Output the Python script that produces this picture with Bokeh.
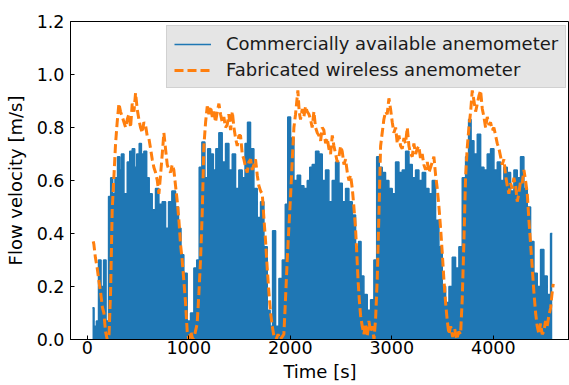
from bokeh.plotting import figure
from bokeh.models import Range1d, FixedTicker, Legend, LegendItem, PrintfTickFormatter
from bokeh.embed import file_html
from bokeh.resources import INLINE

# Commercially available anemometer: sampled peaks (time [s], velocity [m/s])
blue_t = [52, 82, 98, 124, 148, 174, 197, 223, 239, 262, 285, 312, 328, 345, 378, 410, 427, 459, 476, 499,
          525, 542, 574, 597, 624, 656, 689, 722, 755, 788, 814, 853, 886, 912, 935, 968, 1001, 1034, 1067, 1090,
          1116, 1143, 1175, 1198, 1231, 1254, 1280, 1313, 1346, 1379, 1412, 1445, 1477, 1510, 1543, 1566, 1592, 1625, 1658, 1691,
          1724, 1757, 1790, 1813, 1839, 1872, 1905, 1938, 1964, 1987, 2020, 2052, 2085, 2118, 2151, 2184, 2200, 2233, 2266, 2299,
          2331, 2364, 2397, 2430, 2463, 2496, 2529, 2561, 2594, 2627, 2660, 2686, 2709, 2742, 2775, 2808, 2840, 2863, 2890, 2922,
          2955, 2988, 3021, 3054, 3087, 3120, 3153, 3186, 3218, 3251, 3284, 3317, 3350, 3383, 3415, 3448, 3481, 3514, 3547, 3580,
          3612, 3645, 3678, 3711, 3744, 3770, 3793, 3826, 3859, 3892, 3924, 3957, 3990, 4023, 4056, 4088, 4121, 4154, 4187, 4220,
          4252, 4285, 4318, 4351, 4384, 4417, 4450, 4482, 4515, 4548, 4581]
blue_v = [0.12, 0.05, 0.07, 0.30, 0.20, 0.30, 0.07, 0.54, 0.61, 0.55, 0.61, 0.69, 0.64, 0.70, 0.55, 0.67, 0.71, 0.72, 0.65, 0.70,
          0.74, 0.70, 0.71, 0.61, 0.55, 0.49, 0.57, 0.51, 0.52, 0.42, 0.52, 0.56, 0.50, 0.42, 0.32, 0.25, 0.07, 0.10, 0.27, 0.30,
          0.65, 0.745, 0.61, 0.72, 0.70, 0.64, 0.72, 0.78, 0.67, 0.74, 0.64, 0.70, 0.57, 0.64, 0.61, 0.74, 0.82, 0.72, 0.57, 0.46,
          0.52, 0.35, 0.11, 0.05, 0.41, 0.05, 0.23, 0.30, 0.51, 0.84, 0.76, 0.60, 0.62, 0.58, 0.57, 0.60, 0.65, 0.66, 0.71, 0.70,
          0.60, 0.64, 0.52, 0.60, 0.67, 0.59, 0.52, 0.57, 0.52, 0.47, 0.35, 0.37, 0.24, 0.17, 0.11, 0.15, 0.30, 0.69, 0.65, 0.63,
          0.60, 0.57, 0.55, 0.67, 0.63, 0.64, 0.71, 0.66, 0.61, 0.64, 0.60, 0.63, 0.57, 0.55, 0.60, 0.45, 0.35, 0.20, 0.14, 0.20,
          0.31, 0.27, 0.35, 0.61, 0.69, 0.83, 0.75, 0.70, 0.775, 0.65, 0.64, 0.70, 0.72, 0.64, 0.67, 0.60, 0.65, 0.63, 0.56, 0.64,
          0.61, 0.69, 0.57, 0.50, 0.37, 0.25, 0.20, 0.34, 0.24, 0.17, 0.40]

# Fabricated wireless anemometer (time [s], velocity [m/s])
orange_t = [59, 65, 80, 98, 115, 131, 150, 164, 180, 197, 215, 230, 246, 262, 279, 295, 312, 328, 345, 362,
            378, 394, 410, 427, 443, 460, 476, 492, 509, 525, 542, 558, 574, 590, 607, 624, 640, 656, 673, 690,
            706, 722, 739, 755, 771, 788, 805, 821, 837, 853, 870, 887, 903, 919, 935, 952, 968, 985, 1001, 1020,
            1040, 1060, 1083, 1100, 1116, 1133, 1149, 1166, 1182, 1198, 1215, 1232, 1248, 1264, 1281, 1297, 1313, 1330, 1346, 1362,
            1379, 1395, 1412, 1429, 1445, 1461, 1478, 1494, 1510, 1527, 1543, 1560, 1576, 1592, 1609, 1625, 1642, 1658, 1675, 1691,
            1708, 1724, 1740, 1757, 1773, 1790, 1806, 1823, 1840, 1860, 1880, 1900, 1920, 1937, 1953, 1970, 1986, 2003, 2020, 2036,
            2052, 2075, 2088, 2101, 2118, 2134, 2151, 2167, 2184, 2200, 2216, 2233, 2249, 2266, 2282, 2299, 2315, 2331, 2348, 2364,
            2381, 2397, 2414, 2430, 2447, 2463, 2480, 2496, 2512, 2529, 2545, 2562, 2578, 2594, 2611, 2627, 2643, 2655, 2667, 2680,
            2693, 2709, 2725, 2742, 2758, 2775, 2791, 2808, 2825, 2841, 2857, 2874, 2890, 2906, 2922, 2939, 2955, 2972, 2988, 3005,
            3021, 3038, 3054, 3071, 3087, 3103, 3120, 3136, 3153, 3169, 3186, 3202, 3218, 3235, 3251, 3267, 3284, 3300, 3316, 3333,
            3350, 3366, 3383, 3399, 3415, 3432, 3448, 3465, 3481, 3497, 3513, 3530, 3547, 3563, 3580, 3600, 3620, 3640, 3660, 3678,
            3694, 3710, 3727, 3743, 3760, 3777, 3793, 3810, 3826, 3843, 3859, 3875, 3892, 3908, 3924, 3941, 3957, 3973, 3990, 4006,
            4023, 4039, 4056, 4072, 4088, 4105, 4121, 4138, 4154, 4170, 4187, 4203, 4220, 4236, 4252, 4269, 4285, 4302, 4318, 4335,
            4351, 4368, 4384, 4400, 4417, 4433, 4450, 4466, 4482, 4499, 4515, 4531, 4548, 4565, 4578, 4591]
orange_v = [0.37, 0.36, 0.31, 0.27, 0.22, 0.18, 0.12, 0.10, 0.03, 0.00, 0.02, 0.18, 0.49, 0.61, 0.74, 0.82, 0.89, 0.86, 0.84, 0.82,
            0.80, 0.83, 0.85, 0.80, 0.89, 0.86, 0.93, 0.87, 0.83, 0.80, 0.78, 0.82, 0.81, 0.77, 0.76, 0.72, 0.68, 0.65, 0.63, 0.60,
            0.55, 0.62, 0.70, 0.78, 0.72, 0.66, 0.64, 0.63, 0.66, 0.64, 0.58, 0.52, 0.45, 0.36, 0.30, 0.22, 0.14, 0.03, 0.00, 0.03,
            0.00, 0.02, 0.06, 0.175, 0.30, 0.48, 0.73, 0.82, 0.88, 0.85, 0.88, 0.84, 0.86, 0.82, 0.86, 0.89, 0.85, 0.82, 0.84, 0.80,
            0.81, 0.85, 0.79, 0.86, 0.80, 0.76, 0.73, 0.77, 0.77, 0.70, 0.68, 0.65, 0.63, 0.67, 0.68, 0.64, 0.66, 0.68, 0.62, 0.58,
            0.56, 0.55, 0.46, 0.37, 0.27, 0.175, 0.10, 0.05, 0.01, 0.00, 0.02, 0.00, 0.01, 0.02, 0.15, 0.30, 0.42, 0.54, 0.68, 0.80,
            0.85, 0.94, 0.86, 0.83, 0.87, 0.84, 0.88, 0.86, 0.85, 0.83, 0.80, 0.86, 0.80, 0.78, 0.77, 0.75, 0.80, 0.79, 0.74, 0.76,
            0.72, 0.70, 0.77, 0.73, 0.70, 0.67, 0.69, 0.73, 0.71, 0.66, 0.68, 0.63, 0.60, 0.62, 0.57, 0.50, 0.42, 0.33, 0.23, 0.15,
            0.09, 0.05, 0.02, 0.06, 0.01, 0.07, 0.03, 0.05, 0.00, 0.08, 0.23, 0.48, 0.73, 0.78, 0.83, 0.86, 0.85, 0.91, 0.87, 0.82,
            0.78, 0.80, 0.74, 0.77, 0.73, 0.72, 0.76, 0.74, 0.80, 0.73, 0.70, 0.69, 0.74, 0.70, 0.72, 0.73, 0.68, 0.70, 0.66, 0.64,
            0.67, 0.63, 0.65, 0.67, 0.69, 0.62, 0.57, 0.50, 0.42, 0.33, 0.23, 0.14, 0.07, 0.02, 0.05, 0.01, 0.04, 0.00, 0.03, 0.02,
            0.15, 0.36, 0.61, 0.72, 0.80, 0.86, 0.94, 0.90, 0.86, 0.89, 0.92, 0.94, 0.87, 0.84, 0.80, 0.84, 0.81, 0.82, 0.79, 0.80,
            0.77, 0.74, 0.72, 0.69, 0.66, 0.68, 0.62, 0.58, 0.55, 0.59, 0.57, 0.61, 0.58, 0.52, 0.55, 0.60, 0.59, 0.64, 0.60, 0.55,
            0.45, 0.36, 0.27, 0.18, 0.10, 0.05, 0.02, 0.06, 0.02, 0.03, 0.07, 0.05, 0.09, 0.12, 0.17, 0.21]

x_ticks = [0, 1000, 2000, 3000, 4000]
y_ticks = [0.0, 0.2, 0.4, 0.6, 0.8, 1.0, 1.2]

FONT = "DejaVu Sans"
BLUE = "#1f77b4"
ORANGE = "#ff7f0e"

p = figure(width=569, height=385, output_backend="svg", toolbar_location=None,
           x_range=Range1d(-165, 4751), y_range=Range1d(0, 1.2),
           min_border_left=70, min_border_right=0, min_border_top=21, min_border_bottom=46)

p.varea_step(x=blue_t, y1=0, y2=blue_v, step_mode="center", fill_color=BLUE)
blue_r = p.step(x=blue_t, y=blue_v, mode="center", line_color=BLUE, line_width=1.5)
orange_r = p.line(x=orange_t, y=orange_v, line_color=ORANGE, line_width=3, line_dash="9 4")

legend = Legend(items=[LegendItem(label="Commercially available anemometer", renderers=[blue_r]),
                       LegendItem(label="Fabricated wireless anemometer", renderers=[orange_r])],
                location=(96, 251))
legend.label_text_font = FONT
legend.label_text_font_size = "18px"
legend.label_text_color = "#1a1a1a"
legend.glyph_width = 37
legend.glyph_height = 20
legend.label_standoff = 15
legend.label_height = 20
legend.spacing = 5
legend.padding = 7
legend.margin = 0
legend.background_fill_color = "#e2e2e2"
legend.background_fill_alpha = 0.9
legend.border_line_color = "#bdbdbd"
legend.border_line_width = 1
p.add_layout(legend)

p.xgrid.visible = False
p.ygrid.visible = False
p.outline_line_color = "black"
p.outline_line_alpha = 1
p.outline_line_width = 1

p.xaxis.ticker = FixedTicker(ticks=x_ticks)
p.yaxis.ticker = FixedTicker(ticks=y_ticks)
p.yaxis.formatter = PrintfTickFormatter(format="%.1f")
p.xaxis.axis_label = "Time [s]"
p.yaxis.axis_label = "Flow velocity [m/s]"
for ax in (p.xaxis, p.yaxis):
    ax.axis_label_text_font = FONT
    ax.axis_label_text_font_size = "18px"
    ax.axis_label_text_font_style = "normal"
    ax.axis_label_text_color = "black"
    ax.major_label_text_font = FONT
    ax.major_label_text_font_size = "17.5px"
    ax.major_label_text_color = "black"
    ax.major_tick_in = 4
    ax.major_tick_out = 0
    ax.minor_tick_line_color = None
    ax.axis_line_color = "black"
    ax.major_tick_line_color = "black"
p.xaxis.major_label_standoff = 1
p.xaxis.axis_label_standoff = 4
p.yaxis.major_label_standoff = 6
p.yaxis.axis_label_standoff = 8

open("out.html", "w").write(file_html(p, INLINE))
